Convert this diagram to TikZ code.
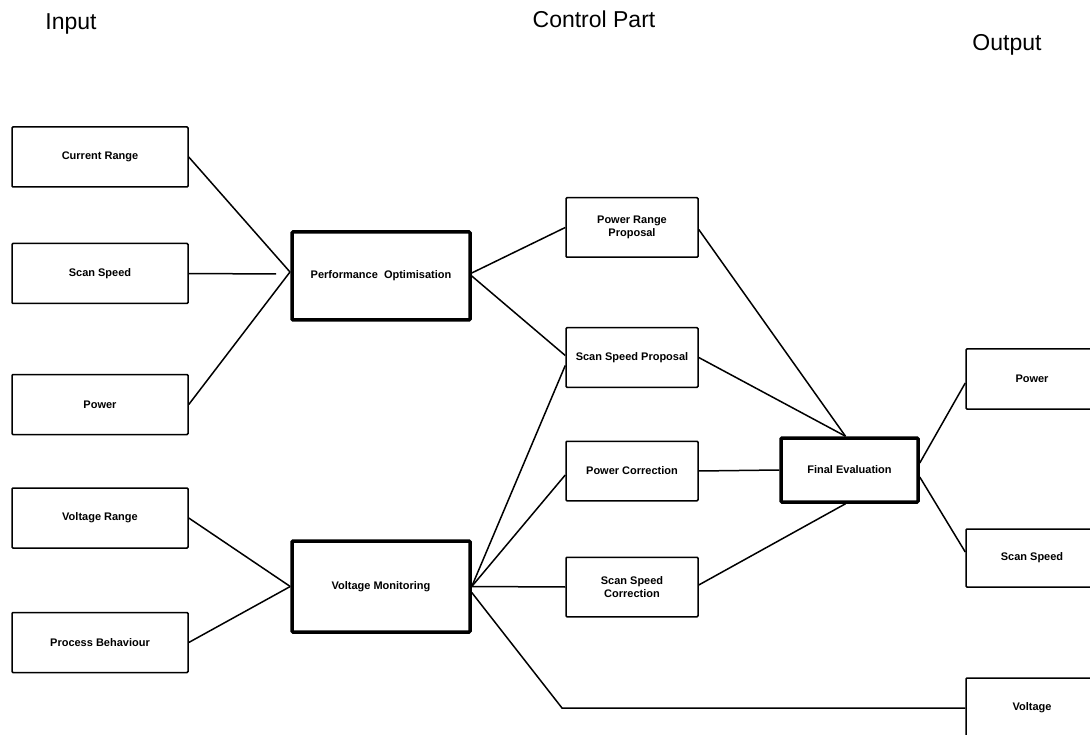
\documentclass[tikz,border=0pt]{standalone}
\usepackage{fontspec}
\setmainfont{Liberation Sans}
\usetikzlibrary{calc}
\begin{document}
\begin{tikzpicture}[x=1pt,y=-1pt,
  box/.style={draw, line width=1.5pt, rectangle, rounded corners=1pt, align=center,
    font=\fontsize{11}{13}\selectfont\bfseries, inner sep=0pt, minimum width=176pt, minimum height=60pt},
  midbox/.style={box, minimum width=132pt, minimum height=59.5pt},
  thickbox/.style={box, line width=3.5pt},
  outbox/.style={box, minimum width=132pt, minimum height=60pt},
  conn/.style={line width=1.5pt},
  title/.style={font=\fontsize{23}{26}\selectfont}]
\useasboundingbox (0,0) rectangle (1090,735);

% titles
\node[title] (tin) at (71,24) {Input};
\node[title] (tctl) at (594,19) {Control Part};
\node[title] (tout) at (1007,45) {Output};

% input boxes
\node[box] (cr)  at (100,157)   {Current Range};
\node[box] (ssi) at (100,273.5) {Scan Speed};
\node[box] (pi)  at (100,404.5) {Power};
\node[box] (vr)  at (100,518)   {Voltage Range};
\node[box] (pb)  at (100,642.5) {Process Behaviour};

% control boxes
\node[thickbox, minimum width=178pt, minimum height=88pt] (po) at (381,276) {Performance\ \ Optimisation};
\node[thickbox, minimum width=178pt, minimum height=91pt] (vm) at (381,586.5) {Voltage Monitoring};

\node[midbox] (prp) at (632,227.5) {Power Range\\Proposal};
\node[midbox] (ssp) at (632,357.5) {Scan Speed Proposal};
\node[midbox] (pc)  at (632,471)   {Power Correction};
\node[midbox] (ssc) at (632,587)   {Scan Speed\\Correction};

\node[thickbox, minimum width=137pt, minimum height=64pt] (fe) at (849.5,470) {Final Evaluation};

% output boxes
\node[outbox] (po2) at (1032,379) {Power};
\node[outbox, minimum height=58pt] (sso) at (1032,558) {Scan Speed};
\node[outbox] (vo)  at (1032,708) {Voltage};

% connection points
\coordinate (poin) at (290,272);
\coordinate (ssend) at (276,274);
\coordinate (corner) at (562,708);

% connectors: inputs
\draw[conn] (cr.east) -- (poin);
\draw[conn] (ssi.east) -- (ssend);
\draw[conn] (pi.east) -- (poin);
\draw[conn] (vr.east) -- (vm.west);
\draw[conn] (pb.east) -- (vm.west);

% performance optimisation
\draw[conn] ($(po.east)+(0,-3)$) -- (prp.west);
\draw[conn] (po.east) -- ($(ssp.west)+(0,-2)$);

% voltage monitoring
\draw[conn] (vm.east) -- ($(ssp.west)+(0,8)$);
\draw[conn] (vm.east) -- ($(pc.west)+(0,4)$);
\draw[conn] (vm.east) -- (ssc.west);
\draw[conn] ($(vm.east)+(0,6)$) -- (corner) -- (vo.west);

% final evaluation
\draw[conn] ($(prp.east)+(0,2)$) -- ($(fe.north)+(-4,0)$);
\draw[conn] (ssp.east) -- ($(fe.north)+(-4,0)$);
\draw[conn] (pc.east) -- (fe.west);
\draw[conn] ($(ssc.east)+(0,-2)$) -- ($(fe.south)+(-4,0)$);
\draw[conn] ($(fe.east)+(0,-7)$) -- ($(po2.west)+(0,4)$);
\draw[conn] ($(fe.east)+(0,7)$) -- ($(sso.west)+(0,-6)$);
\end{tikzpicture}
\end{document}
